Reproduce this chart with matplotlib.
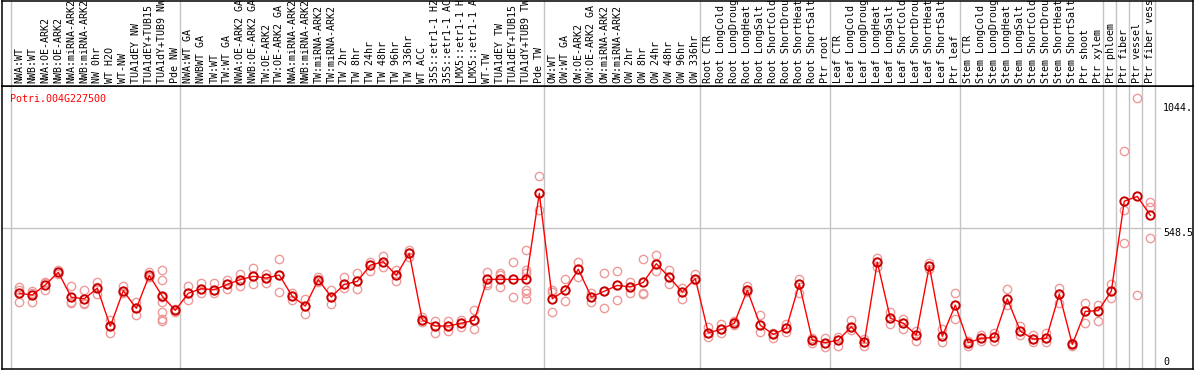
import matplotlib
matplotlib.use("Agg")
import matplotlib.pyplot as plt

# ---- data ----
gene = "Potri.004G227500"
labels = ["NWA:WT", "NWB:WT", "NWA:OE-ARK2", "NWB:OE-ARK2", "NWA:miRNA-ARK2", "NWB:miRNA-ARK2",
          "NW 0hr", "WT H2O", "WT-NW", "TUA1dEY NW", "TUA1dEY+TUB15 NW", "TUA1dY+TUB9 NW", "Pde NW",
          "NWA:WT GA", "NWBWT GA", "TW:WT", "TW:WT GA", "NWA:OE-ARK2 GA", "NWB:OE-ARK2 GA",
          "TW:OE-ARK2", "TW:OE-ARK2 GA", "NWA:miRNA-ARK2", "NWB:miRNA-ARK2", "TW:miRNA-ARK2",
          "TW:miRNA-ARK2", "TW 2hr", "TW 8hr", "TW 24hr", "TW 48hr", "TW 96hr", "TW 336hr", "WT ACC",
          "35S::etr1-1 H2O", "35S::etr1-1 ACC", "LMX5::etr1-1 H2O", "LMX5::etr1-1 ACC", "WT-TW",
          "TUA1dEY TW", "TUA1dEY+TUB15 TW", "TUA1dY+TUB9 TW", "Pde TW",
          "OW:WT", "OW:WT GA", "OW:OE-ARK2", "OW:OE-ARK2 GA", "OW:miRNA-ARK2", "OW:miRNA-ARK2",
          "OW 2hr", "OW 8hr", "OW 24hr", "OW 48hr", "OW 96hr", "OW 336hr",
          "Root CTR", "Root LongCold", "Root LongDrought", "Root LongHeat", "Root LongSalt",
          "Root ShortCold", "Root ShortDrought", "Root ShortHeat", "Root ShortSalt", "Ptr root",
          "Leaf CTR", "Leaf LongCold", "Leaf LongDrought", "Leaf LongHeat", "Leaf LongSalt",
          "Leaf ShortCold", "Leaf ShortDrought", "Leaf ShortHeat", "Leaf ShortSalt", "Ptr leaf",
          "Stem CTR", "Stem LongCold", "Stem LongDrought", "Stem LongHeat", "Stem LongSalt",
          "Stem ShortCold", "Stem ShortDrought", "Stem ShortHeat", "Stem ShortSalt", "Ptr shoot",
          "Ptr xylem", "Ptr phloem", "Ptr fiber", "Ptr vessel", "Ptr fiber vessel"]
group_sizes = [13, 28, 12, 10, 10, 11, 1, 1, 1, 1]
means = [291, 284, 324, 374, 275, 269, 311, 160, 301, 231, 362, 279, 223,
         291, 309, 305, 326, 345, 358, 351, 363, 279, 240, 345, 276, 326, 338, 402, 416, 362,
         449, 185, 161, 161, 172, 184, 346, 346, 346, 346, 687,
         269, 303, 386, 276, 299, 322, 316, 334, 408, 354, 296, 349,
         134, 148, 172, 303, 164, 128, 152, 328, 105, 95,
         105, 158, 96, 414, 192, 172, 125, 399, 120, 244,
         95, 112, 116, 269, 141, 109, 112, 288, 88, 219, 222,
         299, 656, 675, 600]
reps = [[317, 304, 255], [300, 293, 257], [337, 330, 304], [383, 376, 368], [320, 257, 251],
        [303, 253, 248], [334, 317, 288], [185, 160, 134], [321, 300, 291], [256, 232, 203],
        [376, 357, 354], [383, 342, 277, 257, 215, 189, 182], [227, 223, 218],
        [321, 291, 264], [330, 309, 291], [330, 305, 293], [343, 326, 308], [366, 345, 321],
        [390, 358, 326], [367, 351, 333], [427, 363, 296], [293, 279, 264], [267, 240, 209],
        [357, 345, 337], [304, 276, 247], [354, 326, 311], [370, 338, 309], [416, 402, 379],
        [440, 416, 396], [383, 362, 341], [462, 449, 436], [198, 185, 178], [182, 161, 132],
        [182, 161, 140], [185, 172, 156], [224, 184, 148], [376, 330, 324], [370, 363, 317],
        [416, 346, 275], [461, 383, 370, 304, 291, 269], [755, 687, 621],
        [304, 297, 215], [346, 303, 260], [416, 386, 357], [291, 276, 257], [370, 299, 231],
        [378, 322, 264], [336, 316, 293], [426, 291, 287], [443, 408, 379], [383, 354, 326],
        [313, 296, 269], [366, 349, 343],
        [156, 134, 119], [169, 148, 132], [181, 172, 164], [320, 303, 297], [203, 164, 136],
        [132, 128, 115], [169, 152, 136], [347, 328, 291], [112, 105, 92], [112, 95, 79],
        [119, 105, 83], [185, 158, 145], [109, 96, 81], [430, 414, 396], [218, 192, 168],
        [188, 172, 150], [142, 125, 102], [410, 399, 387], [148, 120, 96], [292, 244, 188],
        [102, 95, 83], [125, 112, 100], [134, 116, 103], [307, 269, 243], [162, 141, 125],
        [125, 109, 96], [134, 112, 99], [312, 288, 253], [95, 88, 82], [253, 219, 172],
        [244, 222, 181],
        [328, 299, 272], [855, 622, 490], [1064, 283], [654, 632, 509]]
ytick_vals = [1044, 548.5, 0]
ytick_text = ["1044.", "548.5", "0"]

# ---- layout in pixels ----
W, H = 1194, 370
HEAD = 86
FONT = "DejaVu Sans Mono"
FS = 7.2
GRID = "#c4c4c4"
XL = ((1.5 - 19.3) / 13, (1193 - 19.3) / 13)

fig = plt.figure(figsize=(W / 100, H / 100), dpi=100)
ax = fig.add_axes([1.5 / W, 1.5 / H, (1193 - 1.5) / W, (H - HEAD - 1.5) / H])
hx = fig.add_axes([1.5 / W, (H - HEAD) / H, (1193 - 1.5) / W, (HEAD - 0.5) / H])

# group separators
bounds = [-0.66]
end = -1
for s in group_sizes:
    end += s
    bounds.append(end + 5 / 13)
for a in (ax, hx):
    for b in bounds:
        a.axvline(b, color=GRID, lw=1.0, zorder=0)
    a.set_xlim(*XL)
    a.set_xticks([]); a.set_yticks([])
    for sp in a.spines.values():
        sp.set_color("black"); sp.set_linewidth(1.1)

ax.set_ylim(-7.5, (366.6 - 86) * 3.966)
ax.axhline(548.5, xmin=0, xmax=(1160 - 1.5) / (1193 - 1.5), color=GRID, lw=1.0, zorder=0)

# replicates
for i, r in enumerate(reps):
    ax.plot([i] * len(r), r, "o", ms=6, mfc="none", mec="#ee9a9a", mew=1.0, zorder=2)
# means
x = list(range(len(means)))
ax.plot(x, means, "-", color="#ff0000", lw=1.0, zorder=3)
ax.plot(x, means, "o", ms=6, mfc="none", mec="#c80000", mew=1.4, zorder=4)

ax.text(0.0075, 0.972, gene, transform=ax.transAxes, color="red",
        family=FONT, fontsize=FS, ha="left", va="top")

xr = (1163 - 19.3) / 13
for v, t in zip(ytick_vals, ytick_text):
    ax.text(xr, v, t, family=FONT, fontsize=FS, ha="left",
            va="bottom" if v == 0 else "top", color="black")

# header labels
hx.set_ylim(0, HEAD)
for i, lab in enumerate(labels):
    hx.text(i, 3, lab, rotation=90, ha="center", va="bottom", family=FONT,
            fontsize=FS, color="black", clip_on=True)

fig.savefig("out.png", dpi=100, facecolor="white")
